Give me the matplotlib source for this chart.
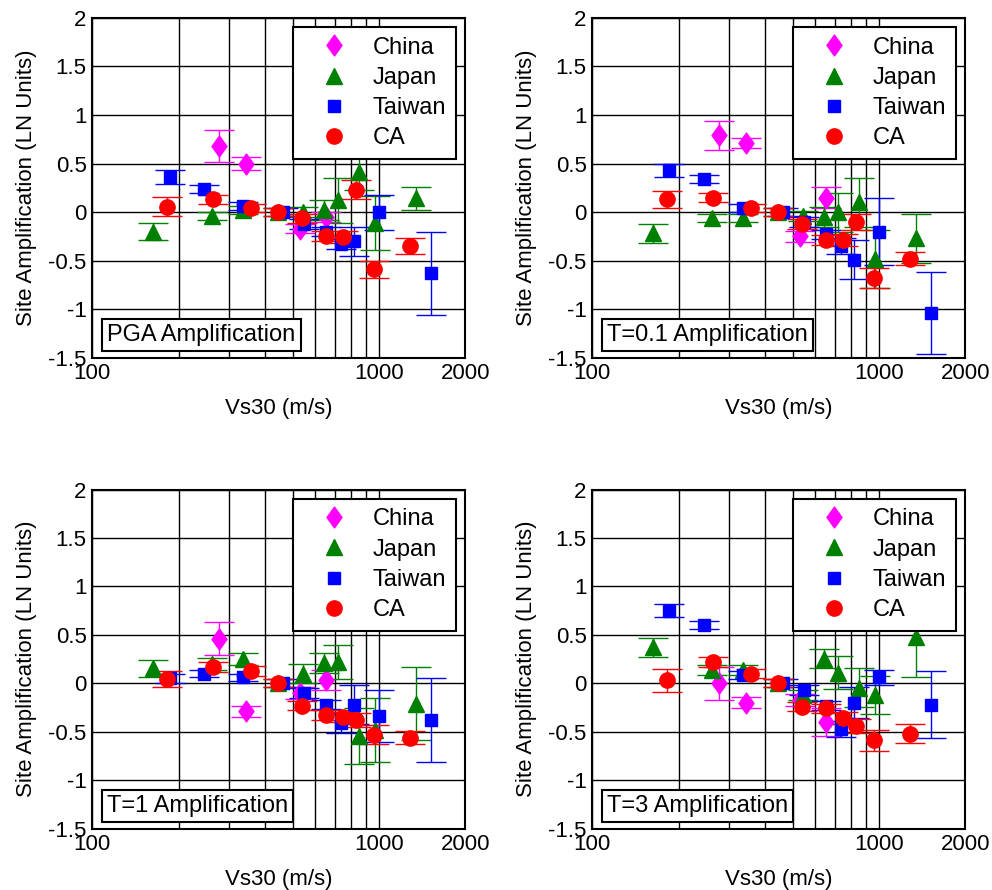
import matplotlib
matplotlib.use('Agg')
import matplotlib.pyplot as plt
from matplotlib.path import Path
import numpy as np

plt.rcParams['font.family'] = ['Liberation Sans', 'DejaVu Sans']
plt.rcParams['axes.unicode_minus'] = False

# Vs30 bin centres for each region (m/s)
china_vs = [276, 344, 530, 652]
japan_vs = [163, 262, 336, 446, 543, 644, 721, 853, 970, 1345]
taiwan_vs = [186, 245, 336, 464, 548, 652, 739, 819, 1003, 1521]
ca_vs = [183, 264, 357, 446, 538, 652, 751, 830, 962, 1283]

titles = ['PGA Amplification', 'T=0.1 Amplification', 'T=1 Amplification', 'T=3 Amplification']

# site amplification (LN units) and +/- error, one list per panel
china_amp = [[0.68, 0.50, -0.17, -0.05],
             [0.79, 0.71, -0.25, 0.15],
             [0.46, -0.29, -0.10, 0.035],
             [0.0, -0.20, -0.17, -0.40]]
china_err = [[0.16, 0.07, 0.05, 0.05],
             [0.15, 0.05, 0.06, 0.11],
             [0.17, 0.06, 0.06, 0.10],
             [0.17, 0.06, 0.06, 0.14]]

japan_amp = [[-0.20, -0.04, 0.02, 0.0, 0.0, 0.02, 0.12, 0.41, -0.11, 0.14],
             [-0.22, -0.06, -0.06, 0.0, -0.04, -0.05, 0.0, 0.10, -0.48, -0.27],
             [0.155, 0.20, 0.25, 0.0, 0.10, 0.21, 0.22, -0.545, -0.48, -0.21],
             [0.37, 0.14, 0.14, 0.0, -0.12, 0.255, 0.11, -0.045, -0.12, 0.48]]
japan_err = [[0.09, 0.04, 0.04, 0.04, 0.05, 0.10, 0.23, 0.18, 0.28, 0.12],
             [0.10, 0.04, 0.04, 0.04, 0.05, 0.10, 0.20, 0.25, 0.30, 0.25],
             [0.09, 0.06, 0.06, 0.04, 0.10, 0.10, 0.18, 0.29, 0.33, 0.38],
             [0.10, 0.05, 0.05, 0.04, 0.05, 0.10, 0.17, 0.20, 0.20, 0.42]]

taiwan_amp = [[0.36, 0.24, 0.06, 0.0, -0.12, -0.20, -0.33, -0.30, 0.0, -0.63],
              [0.43, 0.34, 0.045, 0.0, -0.10, -0.23, -0.35, -0.49, -0.20, -1.04],
              [0.05, 0.10, 0.06, 0.0, -0.10, -0.22, -0.41, -0.22, -0.34, -0.38],
              [0.75, 0.60, 0.085, 0.0, -0.07, -0.23, -0.47, -0.20, 0.06, -0.22]]
taiwan_err = [[0.07, 0.04, 0.04, 0.04, 0.05, 0.05, 0.05, 0.15, 0.18, 0.43],
              [0.07, 0.04, 0.04, 0.04, 0.05, 0.05, 0.08, 0.20, 0.35, 0.42],
              [0.05, 0.04, 0.04, 0.04, 0.05, 0.05, 0.10, 0.20, 0.27, 0.43],
              [0.07, 0.04, 0.04, 0.04, 0.05, 0.05, 0.08, 0.16, 0.08, 0.35]]

ca_amp = [[0.055, 0.13, 0.045, 0.0, -0.065, -0.245, -0.255, 0.23, -0.59, -0.35],
          [0.13, 0.15, 0.04, 0.0, -0.12, -0.29, -0.29, -0.10, -0.68, -0.48],
          [0.045, 0.17, 0.13, 0.0, -0.23, -0.33, -0.345, -0.38, -0.53, -0.56],
          [0.03, 0.22, 0.10, 0.0, -0.24, -0.26, -0.36, -0.44, -0.59, -0.52]]
ca_err = [[0.10, 0.05, 0.04, 0.04, 0.05, 0.05, 0.06, 0.10, 0.09, 0.08],
          [0.09, 0.05, 0.04, 0.04, 0.05, 0.05, 0.06, 0.08, 0.10, 0.07],
          [0.08, 0.05, 0.05, 0.04, 0.05, 0.05, 0.05, 0.07, 0.10, 0.07],
          [0.12, 0.05, 0.05, 0.04, 0.05, 0.05, 0.06, 0.07, 0.11, 0.10]]

xticks = [100, 200, 300, 400, 500, 600, 700, 800, 900, 1000, 2000]
xticklabels = ['100', '', '', '', '', '', '', '', '', '1000', '2000']
yticks = [-1.5, -1, -0.5, 0, 0.5, 1, 1.5, 2]
yticklabels = ['-1.5', '-1', '-0.5', '0', '0.5', '1', '1.5', '2']

# diamond a bit wider than matplotlib's thin diamond
diamond = Path([(0, 1), (0.72, 0), (0, -1), (-0.72, 0), (0, 1)],
               [Path.MOVETO, Path.LINETO, Path.LINETO, Path.LINETO, Path.CLOSEPOLY])

fig = plt.figure(figsize=(9.92, 8.9), dpi=100)
positions = [[0.093, 0.598, 0.376, 0.382],
             [0.597, 0.598, 0.376, 0.382],
             [0.093, 0.069, 0.376, 0.381],
             [0.597, 0.069, 0.376, 0.381]]

series = [
    ('China', china_vs, china_amp, china_err, diamond, 'magenta', 15),
    ('Japan', japan_vs, japan_amp, japan_err, '^', (0, 0.5, 0), 11),
    ('Taiwan', taiwan_vs, taiwan_amp, taiwan_err, 's', 'blue', 9),
    ('CA', ca_vs, ca_amp, ca_err, 'o', 'red', 11),
]

for i in range(4):
    ax = fig.add_axes(positions[i])
    handles = []
    for name, vs, amp, err, mk, col, ms in series:
        ax.errorbar(vs, amp[i], yerr=err[i], fmt='none', ecolor=col,
                    elinewidth=1, capsize=11, capthick=1, zorder=3)
        h, = ax.plot(vs, amp[i], marker=mk, color=col, mec=col, ms=ms, ls='none',
                     zorder=4, label=name)
        handles.append(h)
    ax.set_xscale('log')
    ax.set_xlim(100, 2000)
    ax.set_ylim(-1.5, 2)
    ax.set_xticks(xticks)
    ax.set_xticklabels(xticklabels)
    ax.xaxis.set_minor_locator(matplotlib.ticker.NullLocator())
    ax.set_yticks(yticks)
    ax.set_yticklabels(yticklabels)
    ax.tick_params(direction='in', labelsize=16, length=0, pad=4)
    ax.grid(True, color='black', lw=1, ls='-')
    ax.set_axisbelow(True)
    for s in ax.spines.values():
        s.set_linewidth(1.5)
    ax.set_xlabel('Vs30 (m/s)', fontsize=16, labelpad=10)
    ax.set_ylabel('Site Amplification (LN Units)', fontsize=16, labelpad=8)
    leg = ax.legend(handles=handles, loc='upper right', fontsize=17,
                    fancybox=False, edgecolor='black', framealpha=1,
                    borderaxespad=0.4, handlelength=2.7, handletextpad=0.3,
                    labelspacing=0.35, borderpad=0.4)
    leg.get_frame().set_linewidth(1.5)
    leg.set_zorder(10)
    ax.text(0.04, 0.035, titles[i], transform=ax.transAxes, fontsize=17,
            ha='left', va='bottom', zorder=10,
            bbox=dict(boxstyle='square,pad=0.22', fc='white', ec='black', lw=1.5))

fig.savefig('out.png', dpi=100)
